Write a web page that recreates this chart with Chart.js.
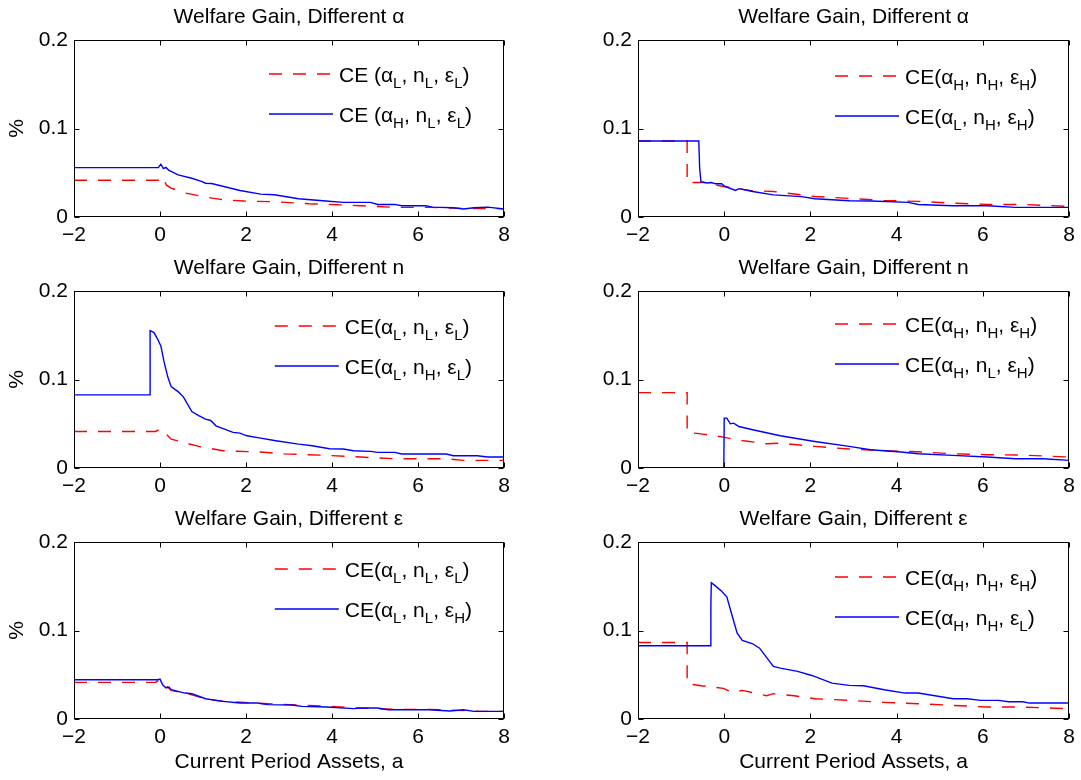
<!DOCTYPE html>
<html><head><meta charset="utf-8">
<script src="https://cdn.jsdelivr.net/npm/chart.js@4.4.1/dist/chart.umd.min.js"></script>
<style>
html,body{margin:0;padding:0;background:#fff;}
body{width:1081px;height:780px;position:relative;overflow:hidden;}
canvas{position:absolute;}
</style></head>
<body>
<canvas id="c0"></canvas><canvas id="c1"></canvas><canvas id="c2"></canvas>
<canvas id="c3"></canvas><canvas id="c4"></canvas><canvas id="c5"></canvas>
<script>
// ---------- tick labels / axis ranges ----------
const xTickValues = [-2, 0, 2, 4, 6, 8];
const yTickValues = [0, 0.1, 0.2];
const panelTitles = ['Welfare Gain, Different α', 'Welfare Gain, Different α',
                     'Welfare Gain, Different n', 'Welfare Gain, Different n',
                     'Welfare Gain, Different ε', 'Welfare Gain, Different ε'];
const yAxisLabel = '%';
const xAxisLabel = 'Current Period Assets, a';

// ---------- legend labels (_X = subscript) ----------
const redLabels  = ['CE (α_L, n_L, ε_L)', 'CE(α_H, n_H, ε_H)', 'CE(α_L, n_L, ε_L)',
                    'CE(α_H, n_H, ε_H)', 'CE(α_L, n_L, ε_L)', 'CE(α_H, n_H, ε_H)'];
const blueLabels = ['CE (α_H, n_L, ε_L)', 'CE(α_L, n_H, ε_H)', 'CE(α_L, n_H, ε_L)',
                    'CE(α_H, n_L, ε_H)', 'CE(α_L, n_L, ε_H)', 'CE(α_H, n_H, ε_L)'];

// ---------- panel 1: different alpha (low) ----------
const p1RedX  = [-2, -0.04, 0.05, 0.15, 0.26, 0.6, 0.98, 1.46, 1.96, 2.66, 3.46, 3.98, 4.66, 5.46, 6.26, 7.06, 8];
const p1RedY  = [0.0416, 0.0416, 0.0457, 0.036, 0.0326, 0.027, 0.0232, 0.0195, 0.018, 0.0172, 0.015, 0.0142, 0.0127, 0.0109, 0.0109, 0.0097, 0.0094];
const p1BlueX = [-2, -0.04, 0.02, 0.08, 0.14, 0.2, 0.42, 0.74, 0.98, 1.06, 1.2, 1.86, 2.34, 2.66, 3.22, 3.86, 4.26, 4.9, 5.06, 5.46, 5.62, 6.18, 6.34, 6.82, 7.06, 7.3, 7.62, 8];
const p1BlueY = [0.0558, 0.0558, 0.0596, 0.0547, 0.056, 0.053, 0.0476, 0.0438, 0.040, 0.0382, 0.0378, 0.030, 0.0258, 0.0251, 0.0206, 0.018, 0.0165, 0.0165, 0.0142, 0.0142, 0.0127, 0.0127, 0.0112, 0.0105, 0.009, 0.0105, 0.0112, 0.009];

// ---------- panel 2: different alpha (high) ----------
const p2RedX  = [-2, -0.86, -0.86, -0.46, -0.02, 0.34, 0.6, 1.14, 2.1, 3.7, 4.5, 5.3, 6.1, 6.9, 8];
const p2RedY  = [0.0858, 0.0858, 0.039, 0.039, 0.0345, 0.032, 0.030, 0.0288, 0.0232, 0.0187, 0.0176, 0.0157, 0.0142, 0.0142, 0.012];
const p2BlueX = [-2, -0.59, -0.57, -0.54, -0.4, -0.3, -0.2, -0.06, 0.0, 0.26, 0.34, 0.66, 1.14, 1.79, 2.1, 2.9, 3.4, 4.27, 4.5, 5.3, 6.1, 6.75, 8];
const p2BlueY = [0.0858, 0.0858, 0.055, 0.040, 0.0385, 0.039, 0.0375, 0.0375, 0.035, 0.030, 0.032, 0.0288, 0.025, 0.023, 0.0206, 0.0184, 0.018, 0.0165, 0.0142, 0.0127, 0.0127, 0.0109, 0.0109];

// ---------- panel 3: different n (low) ----------
const p3RedX  = [-2, -0.1, 0.02, 0.26, 0.9, 1.46, 2.34, 2.9, 3.86, 4.66, 5.46, 6.66, 7.06, 8];
const p3RedY  = [0.0413, 0.0413, 0.0443, 0.0326, 0.0244, 0.0195, 0.018, 0.016, 0.0143, 0.0124, 0.0105, 0.0105, 0.0086, 0.0086];
const p3BlueX = [-2, -0.23, -0.23, -0.14, -0.06, 0.02, 0.09, 0.18, 0.26, 0.42, 0.54, 0.74, 0.9, 1.06, 1.18, 1.3, 1.7, 1.86, 2.02, 2.34, 2.66, 3.22, 3.54, 3.94, 4.26, 4.5, 4.9, 5.06, 5.46, 5.62, 6.66, 6.82, 7.38, 7.62, 8];
const p3BlueY = [0.0826, 0.0826, 0.1553, 0.153, 0.146, 0.138, 0.121, 0.103, 0.0919, 0.0863, 0.0807, 0.0638, 0.0593, 0.0552, 0.0537, 0.0477, 0.0402, 0.0394, 0.0364, 0.0338, 0.0311, 0.027, 0.0251, 0.0218, 0.0214, 0.0195, 0.0188, 0.0176, 0.0176, 0.0158, 0.0158, 0.0139, 0.0139, 0.0124, 0.0124];

// ---------- panel 4: different n (high) ----------
const p4RedX  = [-2, -0.86, -0.86, -0.54, -0.02, 0.34, 0.5, 0.98, 1.3, 2.1, 2.9, 3.7, 4.5, 5.3, 6.1, 6.9, 8];
const p4RedY  = [0.0852, 0.0852, 0.0401, 0.0386, 0.0349, 0.0311, 0.0305, 0.0274, 0.028, 0.0244, 0.0214, 0.0195, 0.0184, 0.0161, 0.015, 0.0146, 0.0124];
const p4BlueX = [-2, -0.01, 0, 0.06, 0.14, 0.22, 0.34, 0.66, 1.3, 2.1, 2.9, 3.39, 4.1, 4.5, 5.3, 6.1, 6.75, 7.4, 8];
const p4BlueY = [0, 0, 0.0563, 0.0563, 0.0499, 0.0507, 0.0469, 0.0432, 0.0364, 0.030, 0.0244, 0.0206, 0.018, 0.0161, 0.0143, 0.0124, 0.0105, 0.0105, 0.0086];

// ---------- panel 5: different epsilon (low) ----------
const p5RedX  = [-2, -0.1, -0.02, 0.26, 0.74, 1.06, 1.46, 2.26, 2.66, 3.46, 3.94, 4.66, 5.46, 6.26, 6.9, 7.46, 8];
const p5RedY  = [0.0414, 0.0414, 0.0444, 0.0323, 0.0274, 0.0226, 0.020, 0.018, 0.017, 0.0154, 0.0143, 0.0124, 0.0109, 0.0109, 0.0098, 0.0086, 0.0086];
const p5BlueX = [-2, -0.06, 0.0, 0.06, 0.14, 0.21, 0.26, 0.58, 0.74, 1.06, 1.46, 1.86, 2.26, 2.5, 3.06, 3.3, 3.86, 4.5, 4.74, 5.06, 5.3, 6.26, 6.74, 7.06, 7.3, 8];
const p5BlueY = [0.0444, 0.0444, 0.0451, 0.0387, 0.035, 0.0361, 0.0331, 0.0293, 0.0286, 0.0229, 0.0199, 0.018, 0.018, 0.0162, 0.0158, 0.0143, 0.0135, 0.0117, 0.0124, 0.0124, 0.0105, 0.0105, 0.009, 0.0105, 0.0086, 0.0086];

// ---------- panel 6: different epsilon (high) ----------
const p6RedX  = [-2, -0.86, -0.86, -0.54, -0.02, 0.18, 0.42, 0.98, 1.14, 1.62, 2.1, 2.9, 3.7, 4.5, 5.3, 6.1, 6.9, 8];
const p6RedY  = [0.0865, 0.0865, 0.0398, 0.0376, 0.0346, 0.0301, 0.0323, 0.0263, 0.0286, 0.0263, 0.0229, 0.0211, 0.0188, 0.0173, 0.0154, 0.0135, 0.0135, 0.0117];
const p6BlueX = [-2, -0.32, -0.31, -0.3, -0.22, -0.06, 0.06, 0.18, 0.3, 0.42, 0.66, 0.82, 1.14, 1.3, 1.7, 2.03, 2.5, 2.9, 3.23, 3.71, 4.19, 4.5, 5.31, 5.63, 5.95, 6.36, 6.6, 6.92, 7.08, 8];
const p6BlueY = [0.0827, 0.0827, 0.1278, 0.154, 0.151, 0.1444, 0.138, 0.1173, 0.097, 0.0887, 0.085, 0.080, 0.0594, 0.0575, 0.0538, 0.0492, 0.0406, 0.038, 0.0376, 0.0331, 0.0293, 0.0293, 0.0229, 0.0229, 0.0211, 0.0211, 0.0195, 0.0195, 0.018, 0.018];

const redSeriesX  = [p1RedX, p2RedX, p3RedX, p4RedX, p5RedX, p6RedX];
const redSeriesY  = [p1RedY, p2RedY, p3RedY, p4RedY, p5RedY, p6RedY];
const blueSeriesX = [p1BlueX, p2BlueX, p3BlueX, p4BlueX, p5BlueX, p6BlueX];
const blueSeriesY = [p1BlueY, p2BlueY, p3BlueY, p4BlueY, p5BlueY, p6BlueY];

// ---------- layout / style (not data) ----------
const FONT = "'Liberation Sans', Arial, Helvetica, sans-serif";
const FS = 21;
const RED = '#ff0000', BLUE = '#0000ff';
const DASH = [13, 11];
const LW = 1.4;
const layouts = [
  {left:0,   top:0,   w:540, h:251, yW:74, padR:36, xH:34, yTitle:true,  xTitle:false, legTop:34},
  {left:540, top:0,   w:541, h:251, yW:98, padR:10, xH:34, yTitle:false, xTitle:false, legTop:36},
  {left:0,   top:251, w:540, h:251, yW:74, padR:36, xH:34, yTitle:true,  xTitle:false, legTop:35},
  {left:540, top:251, w:541, h:251, yW:98, padR:10, xH:34, yTitle:false, xTitle:false, legTop:33},
  {left:0,   top:502, w:540, h:278, yW:74, padR:36, xH:61, yTitle:true,  xTitle:true,  legTop:27},
  {left:540, top:502, w:541, h:278, yW:98, padR:10, xH:61, yTitle:false, xTitle:true,  legTop:35},
];

function pts(xs, ys) { return xs.map((x, i) => ({x: x, y: ys[i]})); }

function richParts(text) {
  const parts = [];
  for (let i = 0; i < text.length; i++) {
    if (text[i] === '_') { parts.push({t: text[i + 1], sub: true}); i++; }
    else {
      if (parts.length && !parts[parts.length - 1].sub) parts[parts.length - 1].t += text[i];
      else parts.push({t: text[i], sub: false});
    }
  }
  return parts;
}
const mainFont = FS + 'px ' + FONT;
const subFont = '15px ' + FONT;
function richWidth(ctx, text) {
  let w = 0;
  richParts(text).forEach(p => { ctx.font = p.sub ? subFont : mainFont; w += ctx.measureText(p.t).width; });
  return w;
}
function drawRich(ctx, text, x, baseline) {
  richParts(text).forEach(p => {
    ctx.font = p.sub ? subFont : mainFont;
    ctx.fillText(p.t, x, p.sub ? baseline + 6 : baseline);
    x += ctx.measureText(p.t).width;
  });
}

const matlabPlugin = {
  id: 'matlabAxes',
  afterDatasetsDraw(chart, args, opts) {
    const ctx = chart.ctx;
    const a = chart.chartArea;
    const xs = chart.scales.x, ys = chart.scales.y;
    ctx.save();
    ctx.strokeStyle = '#000';
    ctx.lineWidth = 1;
    ctx.setLineDash([]);
    const L = Math.round(a.left) + 0.5, R = Math.round(a.right) - 0.5;
    const T = Math.round(a.top) + 0.5, B = Math.round(a.bottom) - 0.5;
    ctx.strokeRect(L, T, R - L, B - T);
    const tl = 5;
    ctx.beginPath();
    xTickValues.forEach(v => {
      const px = Math.round(xs.getPixelForValue(v)) + 0.5;
      ctx.moveTo(px, B); ctx.lineTo(px, B - tl);
      ctx.moveTo(px, T); ctx.lineTo(px, T + tl);
    });
    yTickValues.forEach(v => {
      const py = Math.round(ys.getPixelForValue(v)) + 0.5;
      ctx.moveTo(L, py); ctx.lineTo(L + tl, py);
      ctx.moveTo(R, py); ctx.lineTo(R - tl, py);
    });
    ctx.stroke();

    // legend (MATLAB style, no box)
    const ds = chart.data.datasets;
    let maxW = 0;
    ds.forEach(d => { maxW = Math.max(maxW, richWidth(ctx, d.label)); });
    const textStart = a.right - 32 - maxW;
    const lineEnd = textStart - 6, lineStart = lineEnd - 64;
    ds.forEach((d, i) => {
      const ly = a.top + opts.legTop + i * 40;
      ctx.strokeStyle = d.borderColor;
      ctx.lineWidth = d.borderWidth;
      ctx.setLineDash(d.borderDash || []);
      ctx.beginPath(); ctx.moveTo(lineStart, ly); ctx.lineTo(lineEnd, ly); ctx.stroke();
      ctx.setLineDash([]);
      ctx.fillStyle = '#000';
      ctx.textBaseline = 'alphabetic';
      ctx.textAlign = 'left';
      drawRich(ctx, d.label, textStart, ly + 7.5);
    });
    ctx.restore();
  }
};

Chart.defaults.font.family = FONT;
Chart.defaults.font.size = FS;
Chart.defaults.color = '#000';

layouts.forEach((lay, k) => {
  const cv = document.getElementById('c' + k);
  cv.width = lay.w; cv.height = lay.h;
  cv.style.left = lay.left + 'px'; cv.style.top = lay.top + 'px';
  cv.style.width = lay.w + 'px'; cv.style.height = lay.h + 'px';
  new Chart(cv, {
    type: 'line',
    data: {
      datasets: [
        {label: redLabels[k], data: pts(redSeriesX[k], redSeriesY[k]), borderColor: RED, borderWidth: LW,
         borderDash: DASH, pointRadius: 0, tension: 0, fill: false, order: 2},
        {label: blueLabels[k], data: pts(blueSeriesX[k], blueSeriesY[k]), borderColor: BLUE, borderWidth: LW,
         pointRadius: 0, tension: 0, fill: false, order: 1}
      ]
    },
    options: {
      responsive: false,
      animation: false,
      devicePixelRatio: 1,
      layout: {padding: {left: 0, right: lay.padR, top: 0, bottom: 0}},
      plugins: {
        legend: {display: false},
        tooltip: {enabled: false},
        title: {display: true, text: panelTitles[k], fullSize: false,
                font: {size: FS, weight: 'normal', lineHeight: '24px'},
                padding: {top: 5, bottom: 11}, color: '#000'},
        matlabAxes: {legTop: lay.legTop}
      },
      scales: {
        x: {
          type: 'linear', min: -2, max: 8,
          grid: {display: false, drawTicks: false},
          border: {display: false},
          afterBuildTicks: s => { s.ticks = xTickValues.map(v => ({value: v})); },
          ticks: {padding: 6, font: {size: FS, lineHeight: '24px'}, maxRotation: 0,
                  callback: v => String(v).replace('-', '\u2212')},
          title: {display: lay.xTitle, text: xAxisLabel, font: {size: FS, lineHeight: '24px'},
                  padding: {top: 0, bottom: 6}},
          afterFit: s => { s.height = lay.xH; }
        },
        y: {
          type: 'linear', min: 0, max: 0.2,
          grid: {display: false, drawTicks: false},
          border: {display: false},
          afterBuildTicks: s => { s.ticks = yTickValues.map(v => ({value: v})); },
          ticks: {padding: 6, font: {size: FS, lineHeight: '24px'}},
          title: {display: lay.yTitle, text: yAxisLabel, font: {size: FS, lineHeight: '24px'},
                  padding: {top: 5, bottom: 0}},
          afterFit: s => { s.width = lay.yW; }
        }
      }
    },
    plugins: [matlabPlugin]
  });
});
</script>
</body></html>
